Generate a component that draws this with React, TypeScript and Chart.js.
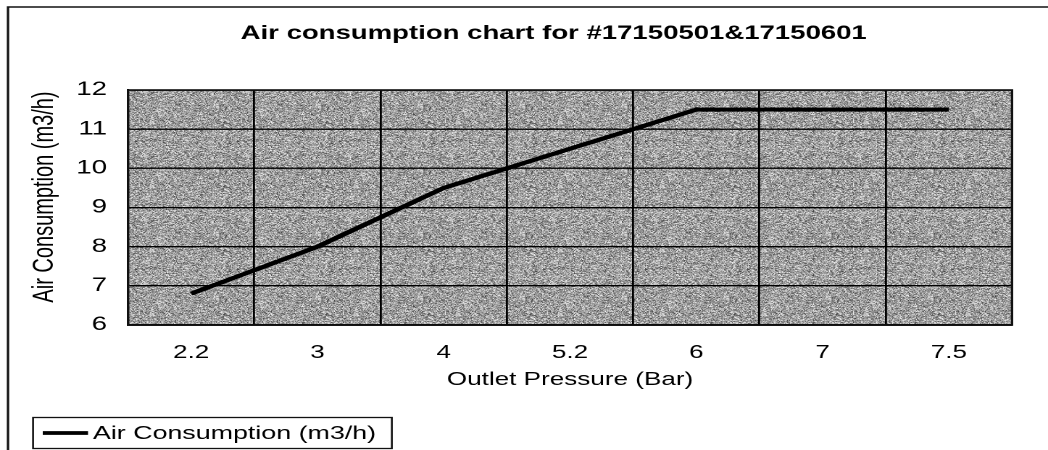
import React, { useEffect, useRef } from "react";
import { Chart, registerables } from "chart.js";

Chart.register(...registerables);

const chartTitle = "Air consumption chart for #17150501&17150601";
const seriesLabel = "Air Consumption (m3/h)";
const xAxisTitle = "Outlet Pressure (Bar)";
const yAxisTitle = "Air Consumption (m3/h)";
const pressures = ["2.2", "3", "4", "5.2", "6", "7", "7.5"];
const consumption = [6.8, 8.0, 9.5, 10.5, 11.5, 11.5, 11.5];
const yMin = 6;
const yMax = 12;
const yStep = 1;

// logical canvas width; displayed stretched to 1048px (the reference is horizontally stretched)
const W = 723;
const H = 450;
const FONT = "'Liberation Sans', Arial, sans-serif";

function makeStipple(): CanvasPattern | null {
  const c = document.createElement("canvas");
  c.width = 128;
  c.height = 128;
  const g = c.getContext("2d");
  if (!g) return null;
  const img = g.createImageData(128, 128);
  for (let y = 0; y < 128; y++) {
    for (let x = 0; x < 128; x++) {
      let h = (x * 374761393 + y * 668265263) | 0;
      h = ((h ^ (h >>> 13)) * 1274126177) | 0;
      h = h ^ (h >>> 16);
      const v = ((h >>> 0) % 1000) / 1000;
      const level = v < 0.45 ? 60 + v * 180 : 160 + (v - 0.45) * 170;
      const i = (y * 128 + x) * 4;
      img.data[i] = level;
      img.data[i + 1] = level;
      img.data[i + 2] = level;
      img.data[i + 3] = 255;
    }
  }
  g.putImageData(img, 0, 0);
  const p = g.createPattern(c, "repeat");
  if (p && typeof DOMMatrix !== "undefined") {
    p.setTransform(new DOMMatrix([0.55, 0, 0, 0.5, 0, 0]));
  }
  return p;
}

const decorPlugin = {
  id: "decor",
  beforeDraw(chart: any) {
    const { ctx, chartArea } = chart;
    ctx.save();
    ctx.fillStyle = "#ffffff";
    ctx.fillRect(0, 0, W, H);
    const pat = makeStipple();
    ctx.fillStyle = pat || "#a0a0a0";
    ctx.fillRect(chartArea.left, chartArea.top, chartArea.right - chartArea.left, chartArea.bottom - chartArea.top);
    ctx.restore();
  },
  afterDraw(chart: any) {
    const { ctx, chartArea } = chart;
    ctx.save();
    // outer frame (top and left)
    ctx.strokeStyle = "#111";
    ctx.lineWidth = 1.6;
    ctx.beginPath();
    ctx.moveTo(5.5, H);
    ctx.lineTo(5.5, 7);
    ctx.lineTo(W, 7);
    ctx.stroke();

    // plot border
    ctx.lineWidth = 1.6;
    ctx.strokeRect(chartArea.left, chartArea.top, chartArea.right - chartArea.left, chartArea.bottom - chartArea.top);

    // chart title
    ctx.fillStyle = "#000";
    ctx.font = `bold 19px ${FONT}`;
    ctx.textAlign = "center";
    ctx.textBaseline = "middle";
    ctx.fillText(chartTitle, 382, 34);

    // y axis title
    ctx.font = `20px ${FONT}`;
    ctx.translate(31, 197);
    ctx.rotate(-Math.PI / 2);
    ctx.fillText(yAxisTitle, 0, 0);
    ctx.restore();

    // legend
    ctx.save();
    ctx.strokeStyle = "#111";
    ctx.lineWidth = 1.3;
    ctx.strokeRect(22.8, 417.5, 247.5, 31);
    ctx.lineWidth = 3.8;
    ctx.strokeStyle = "#000";
    ctx.beginPath();
    ctx.moveTo(29.5, 433);
    ctx.lineTo(60.7, 433);
    ctx.stroke();
    ctx.fillStyle = "#000";
    ctx.font = `18.5px ${FONT}`;
    ctx.textAlign = "left";
    ctx.textBaseline = "middle";
    ctx.fillText(chart.data.datasets[0].label, 64.1, 434);
    ctx.restore();
  },
};

export default function App() {
  const ref = useRef<HTMLCanvasElement | null>(null);
  useEffect(() => {
    const canvas = ref.current;
    if (!canvas) return;
    const chart = new Chart(canvas, {
      type: "line",
      data: {
        labels: pressures,
        datasets: [
          {
            label: seriesLabel,
            data: consumption,
            borderColor: "#000",
            borderWidth: 4.2,
            pointRadius: 0,
            tension: 0,
            fill: false,
          },
        ],
      },
      options: {
        responsive: false,
        animation: false,
        devicePixelRatio: 2,
        layout: { padding: { top: 90, left: 0, right: W - 698.2, bottom: 0 } },
        plugins: {
          legend: { display: false },
          tooltip: { enabled: false },
          title: { display: false },
        },
        scales: {
          x: {
            type: "category",
            offset: true,
            grid: { display: true, offset: true, color: "#000", lineWidth: 1.4, drawTicks: false },
            border: { display: true, color: "#000", width: 1.6 },
            ticks: { color: "#000", padding: 17, font: { family: FONT, size: 18 }, maxRotation: 0 },
            title: {
              display: true,
              text: xAxisTitle,
              color: "#000",
              font: { family: FONT, size: 18, lineHeight: 1.2 },
              padding: { top: 0, bottom: 59 },
            },
            afterFit: (scale: any) => {
              scale.height = H - 325;
            },
          },
          y: {
            min: yMin,
            max: yMax,
            grid: { display: true, color: "#000", lineWidth: 1.4, drawTicks: false },
            border: { display: true, color: "#000", width: 1.6 },
            ticks: { stepSize: yStep, color: "#000", padding: 14.5, font: { family: FONT, size: 19 } },
            afterFit: (scale: any) => {
              scale.width = 88.3;
            },
          },
        },
      },
      plugins: [decorPlugin],
    });
    return () => chart.destroy();
  }, []);
  return (
    <div style={{ position: "fixed", left: 0, top: 0, width: 1048, height: 450, background: "#fff" }}>
      <canvas ref={ref} width={W} height={H} style={{ width: "1048px", height: "450px", display: "block" }} />
    </div>
  );
}
